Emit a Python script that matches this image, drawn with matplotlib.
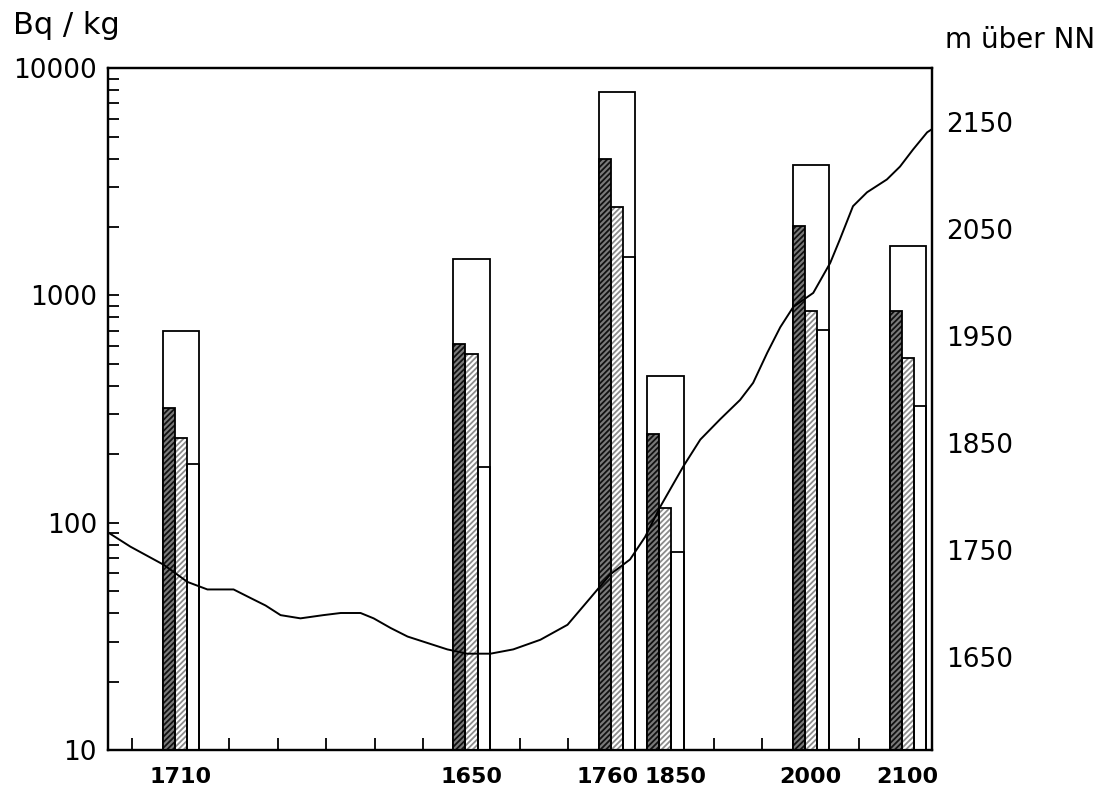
import matplotlib
matplotlib.use('Agg')
import matplotlib.pyplot as plt
from matplotlib.ticker import LogLocator, FixedLocator, NullFormatter
from matplotlib.transforms import ScaledTranslation

plt.rcParams['font.family'] = ['DejaVu Sans']
plt.rcParams['hatch.linewidth'] = 1.3

# Messstellen (Höhe in m als Beschriftung) und Lage im Profil
sites = ['1710', '1650', '1760', '1850', '2000', '2100']
site_pos = [1, 7, 10, 11, 14, 16]

# Aktivität in Bq/kg
total = [700, 1450, 7850, 440, 3750, 1650]      # offener Rahmen
dark = [320, 610, 3980, 245, 2020, 850]         # dicht schraffiert
light = [235, 550, 2450, 116, 854, 530]         # hell schraffiert
third = [182, 176, 1476, 74, 705, 326]          # offen, nur Linie

# Geländeprofil (m über NN)
profile_x = [-0.49, -0.04, 0.65, 1.14, 1.55, 2.09, 2.44, 2.75, 3.06, 3.47,
             3.94, 4.30, 4.71, 4.98, 5.33, 5.68, 6.09, 6.50, 6.91, 7.39,
             7.86, 8.42, 8.98, 9.45, 9.86, 10.27, 10.58, 10.89, 11.37, 11.72,
             12.13, 12.54, 12.81, 13.10, 13.37, 13.64, 14.05, 14.40, 14.60, 14.87,
             15.16, 15.57, 15.84, 16.11, 16.40, 16.50]
elevation_m = [1766, 1753, 1736, 1720, 1713, 1713, 1705, 1698, 1689, 1686,
               1689, 1691, 1691, 1686, 1677, 1669, 1663, 1657, 1653, 1653,
               1657, 1666, 1680, 1705, 1727, 1741, 1762, 1790, 1828, 1853,
               1872, 1890, 1906, 1934, 1958, 1977, 1990, 2018, 2040, 2071,
               2084, 2096, 2108, 2124, 2140, 2143]

left_ticks = [10, 100, 1000, 10000]
right_ticks = [1650, 1750, 1850, 1950, 2050, 2150]

fig = plt.figure(figsize=(10.98, 7.92), dpi=100)
ax = fig.add_axes([0.0984, 0.053, 0.7504, 0.861])
ax.set_yscale('log')
ax.set_ylim(10, 10000)
ax.set_xlim(-0.5, 16.5)

w = 0.75 / 3
floor = 10
for i, c in enumerate(site_pos):
    # Rahmen
    ax.bar(c, total[i] - floor, bottom=floor, width=3 * w, facecolor='white',
           edgecolor='black', linewidth=1.3, zorder=3)
    # dicht schraffiert
    ax.bar(c - w, dark[i] - floor, bottom=floor, width=w, facecolor='#7a7a7a',
           edgecolor='#111111', hatch='//////', linewidth=0, zorder=4)
    ax.bar(c - w, dark[i] - floor, bottom=floor, width=w, fill=False,
           edgecolor='black', linewidth=1.3, zorder=5)
    # hell schraffiert
    ax.bar(c, light[i] - floor, bottom=floor, width=w, facecolor='white',
           edgecolor='#8c8c8c', hatch='//////', linewidth=0, zorder=4)
    ax.bar(c, light[i] - floor, bottom=floor, width=w, fill=False,
           edgecolor='black', linewidth=1.3, zorder=5)
    # offen
    ax.bar(c + w, third[i] - floor, bottom=floor, width=w, fill=False,
           edgecolor='black', linewidth=1.3, zorder=5)

ax.set_axisbelow(True)
ax.yaxis.set_major_locator(FixedLocator(left_ticks))
ax.set_yticklabels([str(v) for v in left_ticks])
ax.yaxis.set_minor_locator(LogLocator(base=10, subs=range(2, 10)))
ax.yaxis.set_minor_formatter(NullFormatter())
ax.tick_params(axis='y', which='both', direction='in', length=8, width=1.3,
               labelsize=19, pad=8, right=False)

xlabels = [''] * 17
for s, p in zip(sites, site_pos):
    xlabels[p] = s
ax.set_xticks(range(17))
ax.set_xticklabels(xlabels, fontweight='bold')
ax.tick_params(axis='x', direction='in', length=9, width=1.3, labelsize=16, pad=12)

# die beiden eng stehenden Beschriftungen etwas auseinanderrücken
ticklabels = ax.get_xticklabels()
for p, dx in [(10, -0.09), (11, 0.10)]:
    lab = ticklabels[p]
    lab.set_transform(lab.get_transform() + ScaledTranslation(dx, 0, fig.dpi_scale_trans))

for sp in ax.spines.values():
    sp.set_linewidth(1.6)

ax2 = ax.twinx()
ax2.set_ylim(1563, 2200)
ax2.plot(profile_x, elevation_m, color='black', linewidth=1.4)
ax2.set_yticks(right_ticks)
ax2.tick_params(axis='y', length=0, labelsize=19, pad=10)
for sp in ax2.spines.values():
    sp.set_linewidth(1.6)

fig.text(0.012, 0.968, 'Bq / kg', fontsize=22, va='center', ha='left')
fig.text(0.997, 0.950, 'm über NN', fontsize=20, va='center', ha='right')

fig.savefig('out.png', dpi=100)
